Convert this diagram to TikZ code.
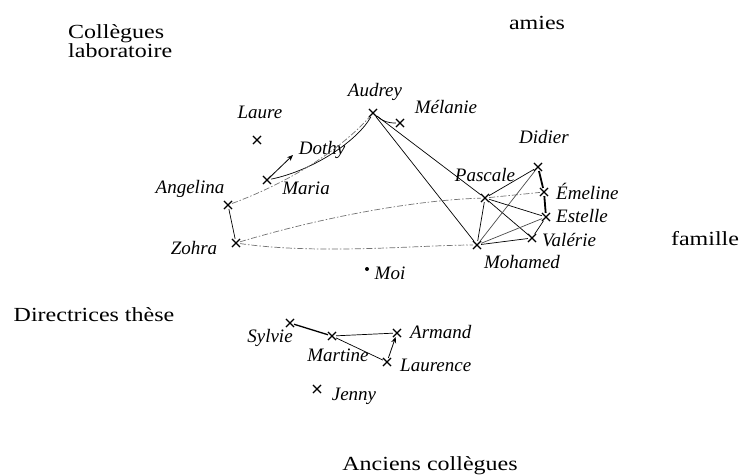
\documentclass[tikz,border=0pt]{standalone}
\usepackage{fontspec}
\setmainfont{Liberation Serif}[FakeStretch=1.2]
\newfontfamily\handfont{Liberation Serif}
\usetikzlibrary{shapes.misc,arrows.meta}
\begin{document}
\begin{tikzpicture}[x=1pt,y=-1pt,
  xmark/.style={cross out,draw,minimum size=7pt,inner sep=0pt,line width=1.1pt},
  hname/.style={font=\handfont\itshape\fontsize{19}{19}\selectfont,inner sep=0pt},
  grp/.style={font=\fontsize{20}{18}\selectfont,inner sep=0pt,align=left},
  link/.style={line width=0.7pt},
  faint/.style={line width=0.7pt,dash pattern=on 6pt off 2pt on 1.5pt off 2pt,black!55},
  strong/.style={line width=1.8pt},
  arr/.style={line width=0.8pt,-{Stealth[length=6pt,width=5pt]}}]
\fill[white] (0,0) rectangle (741,476);
\useasboundingbox (0,0) rectangle (741,476);

% group labels
\node[grp,anchor=west] (gcl) at (68,41) {Collègues\\laboratoire};
\node[grp] (gam) at (537,23) {amies};
\node[grp] (gfa) at (705,239) {famille};
\node[grp] (gdt) at (94,315) {Directrices thèse};
\node[grp] (gac) at (430,466) {Anciens collègues};

% marks
\node[xmark] (au) at (373,113) {};
\node[xmark] (me) at (400,123) {};
\node[xmark] (la) at (257,140) {};
\coordinate (do) at (293,155);
\node[xmark] (ma) at (267,180) {};
\node[xmark] (an) at (228,205) {};
\node[xmark] (zo) at (236,243) {};
\node[xmark] (pa) at (485,198) {};
\node[xmark] (di) at (538,167) {};
\node[xmark] (em) at (544,192) {};
\node[xmark] (es) at (546,217) {};
\node[xmark] (va) at (532,238) {};
\node[xmark] (mo) at (477,245) {};
\node[circle,fill,inner sep=0pt,minimum size=4pt] (moi) at (367,269) {};
\node[xmark] (sy) at (290,323) {};
\node[xmark] (mt) at (332,336) {};
\node[xmark] (ar) at (397,333) {};
\node[xmark] (lc) at (387,362) {};
\node[xmark] (je) at (317,389) {};

% names
\node[hname] (tau) at (375,92) {Audrey};
\node[hname] (tme) at (446,107) {Mélanie};
\node[hname] (tla) at (260,112) {Laure};
\node[hname] (tdo) at (322,150) {Dothy};
\node[hname] (tma) at (306,188) {Maria};
\node[hname] (tan) at (190,189) {Angelina};
\node[hname] (tzo) at (194,248) {Zohra};
\node[hname] (tpa) at (485,175) {Pascale};
\node[hname] (tdi) at (544,137) {Didier};
\node[hname,anchor=west] (tem) at (556,191) {Émeline};
\node[hname,anchor=west] (tes) at (556,216) {Estelle};
\node[hname,anchor=west] (tva) at (542,240) {Valérie};
\node[hname] (tmo) at (522,262) {Mohamed};
\node[hname] (tmoi) at (390,273) {Moi};
\node[hname] (tsy) at (270,338) {Sylvie};
\node[hname] (tmt) at (338,355) {Martine};
\node[hname,anchor=west] (tar) at (410,332) {Armand};
\node[hname,anchor=west] (tlc) at (400,365) {Laurence};
\node[hname] (tje) at (354,396) {Jenny};

% connectors
\draw[link] (au) to[bend right=20] (me);
\draw[link] (au) .. controls (358,140) and (315,170) .. (ma);
\draw[arr] (ma) -- (do);
\draw[faint] (an) .. controls (290,182) and (340,150) .. (au);
\draw[link] (an) -- (zo);
\draw[faint] (zo) .. controls (330,215) and (420,200) .. (pa);
\draw[faint] (zo) .. controls (320,255) and (420,245) .. (mo);
\draw[link] (au) -- (pa);
\draw[link] (au) -- (mo);
\draw[link] (pa) -- (di);
\draw[faint] (pa) -- (em);
\draw[link] (pa) -- (es);
\draw[link] (pa) -- (va);
\draw[link] (pa) -- (mo);
\draw[link,black!70] (mo) -- (di);
\draw[link,black!70] (mo) -- (es);
\draw[link] (mo) -- (va);
\draw[link] (va) -- (es);
\draw[strong] (di) -- (em);
\draw[strong] (em) -- (es);

\draw[strong,line width=1.3pt] (sy) -- (mt);
\draw[link] (mt) -- (ar);
\draw[link] (mt) -- (lc);
\draw[arr] (lc) -- (ar);
\end{tikzpicture}
\end{document}
